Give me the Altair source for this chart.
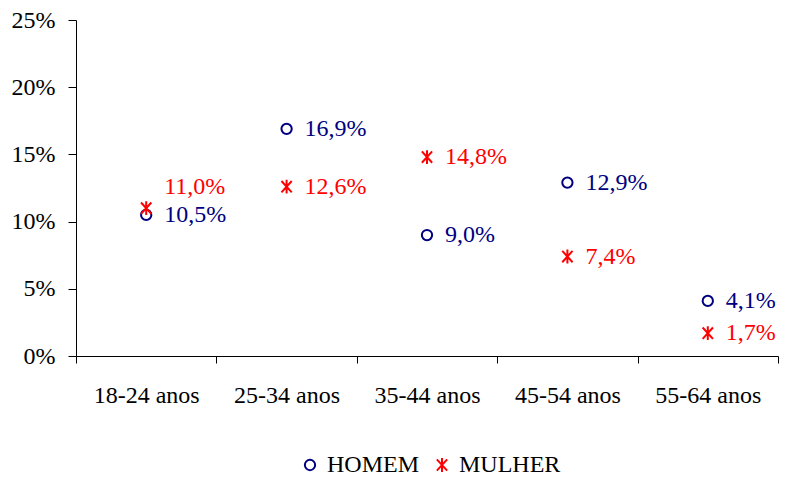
import altair as alt
import pandas as pd

categorias = ["18-24 anos", "25-34 anos", "35-44 anos", "45-54 anos", "55-64 anos"]
homem = [10.5, 16.9, 9.0, 12.9, 4.1]
mulher = [11.0, 12.6, 14.8, 7.4, 1.7]
series = ["HOMEM", "MULHER"]
cores = ["#000080", "#FF0000"]
y_ticks = [0, 5, 10, 15, 20, 25]

rows = []
for nome, vals in zip(series, [homem, mulher]):
    for c, v in zip(categorias, vals):
        rows.append({"cat": c, "serie": nome, "valor": v,
                     "rotulo": f"{v:.1f}".replace(".", ",") + "%"})
df = pd.DataFrame(rows)

FONT = "Liberation Serif"
ASTER = "M0,-1.35L0,1.35M-1.0,-1.1L1.0,1.1M-1.0,1.1L1.0,-1.1"

x_enc = alt.X("cat:N", sort=categorias, title=None,
              axis=alt.Axis(labelAngle=0, tickBand="extent", tickSize=7,
                            labelPadding=20, labelFont=FONT, labelFontSize=24,
                            labelColor="black", domainColor="black",
                            tickColor="black", domainWidth=1, tickWidth=1))
y_enc = alt.Y("valor:Q", title=None,
              scale=alt.Scale(domain=[0, 25], nice=False, zero=True),
              axis=alt.Axis(values=y_ticks, labelExpr="datum.value + '%'",
                            tickSize=8, labelPadding=13, grid=False,
                            labelFont=FONT, labelFontSize=24, labelColor="black",
                            domainColor="black", tickColor="black",
                            domainWidth=1, tickWidth=1))
color_enc = alt.Color("serie:N", scale=alt.Scale(domain=series, range=cores),
                      legend=alt.Legend(title=None, orient="none", direction="horizontal",
                                        legendX=222, legendY=433, columnPadding=10,
                                        labelOffset=5, labelFont=FONT, labelFontSize=24,
                                        labelColor="black", symbolStrokeWidth=2,
                                        symbolFillColor="transparent",
                                        symbolSize=106))
shape_enc = alt.Shape("serie:N", scale=alt.Scale(domain=series, range=["circle", ASTER]))

base = alt.Chart(df)

# white backing behind the asterisks (thick white ring acting as a disc)
fundo = base.transform_filter(alt.datum.serie == "MULHER").mark_point(
    filled=False, stroke="white", strokeWidth=8, size=16, opacity=1, shape="circle"
).encode(x=x_enc, y=y_enc)

pontos = base.mark_point(filled=False, strokeWidth=2, size=106, opacity=1).encode(
    x=x_enc, y=y_enc, color=color_enc, shape=shape_enc)

txt = dict(align="left", baseline="middle", dx=18, font=FONT, fontSize=24)

rot_h = base.transform_filter(alt.datum.serie == "HOMEM").mark_text(
    color=cores[0], **txt).encode(x=x_enc, y=y_enc, text="rotulo:N")

rot_m = base.transform_filter(
    "datum.serie == 'MULHER' && datum.cat != '18-24 anos'"
).mark_text(color=cores[1], **txt).encode(x=x_enc, y=y_enc, text="rotulo:N")

rot_m_alto = base.transform_filter(
    "datum.serie == 'MULHER' && datum.cat == '18-24 anos'"
).mark_text(color=cores[1], dy=-21, **txt).encode(x=x_enc, y=y_enc, text="rotulo:N")

chart = alt.layer(fundo, pontos, rot_h, rot_m, rot_m_alto).properties(
    width=702, height=336,
    autosize=alt.AutoSizeParams(type="none"),
    padding={"left": 68, "top": 12, "right": 1, "bottom": 122},
    background="white",
).configure_view(stroke=None)

chart.save("out.html", embed_options={"renderer": "svg", "actions": False})
